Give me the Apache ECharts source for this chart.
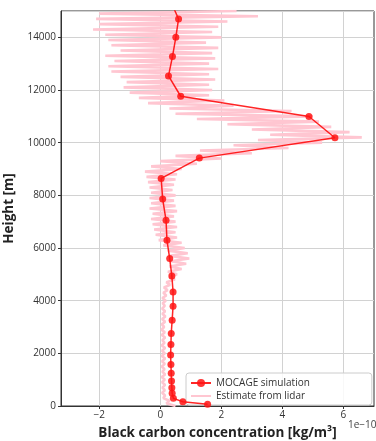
<!DOCTYPE html>
<html>
<head>
<meta charset="utf-8">
<script src="https://cdn.jsdelivr.net/npm/echarts@6/dist/echarts.min.js"></script>
<style>
  html, body { margin: 0; padding: 0; background: #fff; }
  #chart { width: 376px; height: 441px; }
</style>
</head>
<body>
<div id="chart"></div>
<script>
// MOCAGE model levels (m) and simulated black carbon (units of 1e-10 kg/m3)
const mocageHeight = [64, 163, 290, 480, 694, 948, 1240, 1580, 1933, 2339, 2756, 3260, 3791, 4333,
  4940, 5599, 6293, 7051, 7858, 8643, 9413, 10186, 10993, 11763, 12536, 13268, 14000, 14697, 15400];
const mocageConc = [1.55, 0.74, 0.43, 0.39, 0.38, 0.37, 0.36, 0.35, 0.34, 0.35, 0.36, 0.39, 0.42, 0.42,
  0.38, 0.31, 0.22, 0.19, 0.08, 0.03, 1.28, 5.72, 4.87, 0.67, 0.27, 0.40, 0.51, 0.60, 0.33];

// Lidar-derived black carbon, one value per 100 m range bin starting at the ground
const lidarBinStart = 0;
const lidarBinSize = 100;
const lidarConc = [
  0.50, 0.20, 0.30, 0.10, 0.16, 0.06, 0.15, 0.07, 0.16, 0.06,
  0.15, 0.05, 0.16, 0.07, 0.14, 0.05, 0.15, 0.06, 0.16, 0.05,
  0.15, 0.06, 0.16, 0.05, 0.14, 0.07, 0.16, 0.05, 0.15, 0.04,
  0.13, 0.05, 0.16, 0.06, 0.17, 0.07, 0.16, 0.06, 0.15, 0.08,
  0.18, 0.07, 0.20, 0.10, 0.24, 0.12, 0.32, 0.20, 0.48, 0.30,
  0.55, 0.25, 0.70, 0.30, 0.85, 0.35, 0.95, 0.30, 0.90, 0.25,
  0.80, 0.10, 0.70, -0.05, 0.55, -0.15, 0.50, -0.20, 0.55, -0.25,
  0.50, -0.30, 0.45, -0.25, 0.55, -0.35, 0.50, -0.30, 0.45, -0.35,
  0.50, -0.30, 0.40, -0.35, 0.45, -0.40, 0.50, -0.45, 0.55, -0.50,
  0.70, -0.30, 1.20, 0.00, 2.00, 0.50, 3.00, 1.30, 4.20, 2.40,
  5.30, 3.20, 6.60, 3.60, 6.20, 3.00, 5.60, 2.20, 5.20, 1.20,
  5.00, 0.50, 4.30, 0.30, 2.40, -0.40, 2.10, -0.70, 1.60, -1.00,
  1.70, -1.20, 1.60, -1.10, 1.80, -1.30, 1.60, -1.60, 1.90, -1.70,
  1.60, -1.50, 1.80, -1.80, 1.70, -1.30, 1.90, -1.60, 1.50, -1.70,
  2.00, -1.80, 1.70, -2.20, 1.90, -2.00, 2.20, -2.10, 3.20, -2.00,
  2.50
];

const xTicks = [-2, 0, 2, 4, 6];
const xLabelText = 'Black carbon concentration [kg/m³]';
const yLabelText = 'Height [m]';
const xScaleText = '1e\u221210';

const mocagePoints = mocageConc.map((v, i) => [v, mocageHeight[i]]);
const lidarPoints = lidarConc.map((v, i) => [v, lidarBinStart + i * lidarBinSize]);

const font = 'Open Sans';
const minus = v => String(v).replace('-', '\u2212');
const pink = '#ffc6d1';

const chart = echarts.init(document.getElementById('chart'), null, { renderer: 'canvas' });
chart.setOption({
  animation: false,
  textStyle: { fontFamily: font },
  grid: {
    left: 61, right: 2, top: 11, bottom: 35,
    outerBoundsMode: 'none',
    containLabel: false,
    show: true, borderColor: '#333', borderWidth: 1, backgroundColor: 'transparent'
  },
  xAxis: {
    type: 'value',
    min: -3.25, max: 7.0,
    name: xLabelText,
    nameLocation: 'middle',
    nameGap: 20,
    nameTextStyle: { fontFamily: font, fontWeight: 'bold', fontSize: 13.5, color: '#222' },
    axisLine: { show: true, onZero: false, lineStyle: { color: '#333', width: 1 } },
    axisTick: { show: true, length: 3, customValues: xTicks, lineStyle: { color: '#333' } },
    axisLabel: { customValues: xTicks, formatter: minus, fontSize: 10, color: '#333', margin: 4 },
    splitLine: { show: true, lineStyle: { color: '#d2d2d2', width: 1 } }
  },
  yAxis: {
    type: 'value',
    min: 0, max: 15000, interval: 2000,
    name: yLabelText,
    nameLocation: 'middle',
    nameGap: 34,
    nameTextStyle: { fontFamily: font, fontWeight: 'bold', fontSize: 13.5, color: '#222' },
    axisLine: { show: true, onZero: false, lineStyle: { color: '#333', width: 1 } },
    axisTick: { show: true, length: 3, lineStyle: { color: '#333' } },
    axisLabel: { fontSize: 10, color: '#333', margin: 5, showMaxLabel: false, formatter: v => String(v) },
    splitLine: { show: true, lineStyle: { color: '#d2d2d2', width: 1 } }
  },
  legend: {
    orient: 'vertical',
    left: 186, top: 373,
    padding: [5, 62, 4, 4],
    itemWidth: 20, itemHeight: 10, itemGap: 3,
    backgroundColor: 'rgba(255,255,255,0.85)',
    borderColor: '#cccccc', borderWidth: 1, borderRadius: 3,
    textStyle: { fontFamily: font, fontSize: 10, color: '#333', lineHeight: 10 },
    z: 4,
    data: [
      { name: 'MOCAGE simulation' },
      { name: 'Estimate from lidar', itemStyle: { opacity: 0 } }
    ]
  },
  graphic: [{
    type: 'text', left: 348, top: 420,
    style: { text: xScaleText, fontFamily: font, fontSize: 10, fill: '#444' }
  }],
  series: [
    {
      name: 'Estimate from lidar',
      type: 'line',
      data: lidarPoints,
      showSymbol: false,
      symbol: 'none',
      lineStyle: { color: pink, width: 2.6 },
      itemStyle: { color: pink },
      z: 2,
      clip: true
    },
    {
      name: 'MOCAGE simulation',
      type: 'line',
      data: mocagePoints,
      symbol: 'circle',
      symbolSize: 7,
      lineStyle: { color: 'rgba(255,0,0,0.85)', width: 1.5 },
      itemStyle: { color: 'rgba(255,20,20,0.85)' },
      z: 5,
      clip: true
    }
  ]
});
</script>
</body>
</html>
